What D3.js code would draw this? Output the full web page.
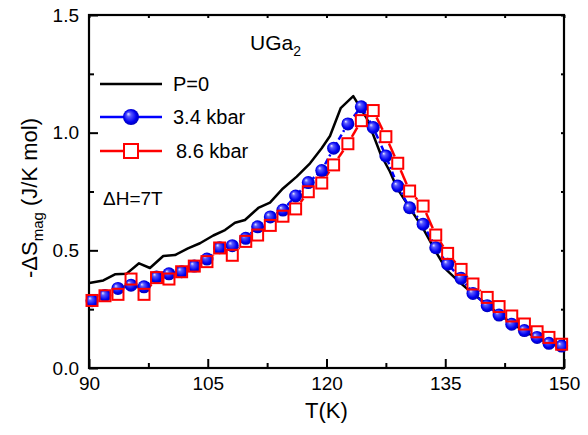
<!DOCTYPE html>
<html>
  <head>
    <meta charset="utf-8">
    <script src="https://d3js.org/d3.v7.min.js"></script>
    <title>UGa2 entropy change</title>
    <style>
      body { margin: 0px; background: #fff; overflow: hidden; }
      svg { display: block; }
      text { font-family: "Liberation Sans", Arial, sans-serif; fill: #000; }
      .domain { display: none; }
      .tick line { stroke: #000; stroke-width: 2; }
      .tick text { font-size: 19px; }
    </style>
  </head>
  <body>
    <svg width="588" height="435"></svg>
    <script>
      // P = 0 curve (line only)
      const tempP0 = [90.04, 91.81, 93.28, 94.76, 96.32, 97.70, 99.38, 100.86, 102.50, 104.02,
        105.70, 107.18, 108.44, 109.70, 111.38, 112.86, 114.50, 116.24, 117.92, 119.39,
        120.44, 121.79, 123.38, 125.08, 125.91, 126.88, 128.02, 128.97, 130.55, 132.23,
        133.83, 135.18, 136.86, 138.54, 140.23, 141.79, 143.42, 145.06, 146.70, 148.34, 149.91];
      const dsP0 = [0.361, 0.372, 0.398, 0.401, 0.445, 0.425, 0.476, 0.480, 0.508, 0.530,
        0.563, 0.586, 0.617, 0.629, 0.680, 0.703, 0.763, 0.813, 0.870, 0.934,
        0.986, 1.104, 1.155, 1.061, 0.990, 0.905, 0.834, 0.761, 0.679, 0.591,
        0.493, 0.416, 0.363, 0.314, 0.271, 0.229, 0.190, 0.154, 0.126, 0.103, 0.087];

      // 3.4 kbar and 8.6 kbar share the temperature grid
      const tempP = [90.38, 92.02, 93.66, 95.31, 96.95, 98.53, 100.1, 101.7, 103.3, 104.9,
        106.5, 108.1, 109.8, 111.3, 112.9, 114.5, 116.1, 117.7, 119.4, 120.9,
        122.7, 124.4, 125.9, 127.5, 129.0, 130.5, 132.2, 133.8, 135.3, 137.0,
        138.5, 140.3, 141.8, 143.4, 145.0, 146.6, 148.1, 149.7];
      const ds34 = [0.286, 0.308, 0.338, 0.352, 0.345, 0.387, 0.400, 0.409, 0.433, 0.463,
        0.511, 0.520, 0.551, 0.600, 0.642, 0.671, 0.731, 0.788, 0.839, 0.934,
        1.037, 1.110, 1.022, 0.901, 0.773, 0.681, 0.611, 0.511, 0.441, 0.381,
        0.317, 0.265, 0.225, 0.186, 0.159, 0.130, 0.105, 0.093];
      const ds86 = [0.287, 0.307, 0.313, 0.378, 0.313, 0.384, 0.378, 0.409, 0.433, 0.452,
        0.510, 0.479, 0.538, 0.565, 0.606, 0.645, 0.676, 0.749, 0.786, 0.863,
        0.953, 1.051, 1.094, 0.983, 0.870, 0.752, 0.688, 0.565, 0.487, 0.419,
        0.357, 0.300, 0.261, 0.221, 0.187, 0.154, 0.130, 0.101];

      const xTicks = [90, 105, 120, 135, 150];
      const xMinor = [97.5, 112.5, 127.5, 142.5];
      const yTicks = [0, 0.5, 1.0, 1.5];
      const yMinor = [0.25, 0.75, 1.25];
      const legendLabels = ['P=0', '3.4 kbar', '8.6 kbar'];

      const margin = { left: 89, right: 24, top: 15, bottom: 67 };
      const svg = d3.select('svg');
      const width = +svg.attr('width');
      const height = +svg.attr('height');
      const innerWidth = width - margin.left - margin.right;
      const innerHeight = height - margin.top - margin.bottom;

      const defs = svg.append('defs');
      const grad = defs.append('radialGradient')
          .attr('id', 'ball')
          .attr('cx', '50%').attr('cy', '50%').attr('r', '55%')
          .attr('fx', '32%').attr('fy', '30%');
      grad.append('stop').attr('offset', '0%').attr('stop-color', '#e8e8ff');
      grad.append('stop').attr('offset', '25%').attr('stop-color', '#5a5aff');
      grad.append('stop').attr('offset', '70%').attr('stop-color', '#0000f0');
      grad.append('stop').attr('offset', '100%').attr('stop-color', '#0000a8');

      const g = svg.append('g')
          .attr('transform', `translate(${margin.left},${margin.top})`);

      const xScale = d3.scaleLinear().domain([90, 150]).range([0, innerWidth]);
      const yScale = d3.scaleLinear().domain([0, 1.5]).range([innerHeight, 0]);

      // axes: major ticks inside with labels, minor ticks, tiny ticks on top/right
      g.append('g')
          .attr('transform', `translate(0,${innerHeight})`)
          .call(d3.axisBottom(xScale).tickValues(xTicks).tickSize(-9).tickPadding(9)
            .tickFormat(d3.format('d')));
      g.append('g')
          .call(d3.axisLeft(yScale).tickValues(yTicks).tickSize(-9).tickPadding(10)
            .tickFormat(d3.format('.1f')));

      const noLabels = sel => sel.selectAll('text').remove();
      g.append('g')
          .attr('transform', `translate(0,${innerHeight})`)
          .call(d3.axisBottom(xScale).tickValues(xMinor).tickSize(-5))
          .call(noLabels);
      g.append('g')
          .call(d3.axisLeft(yScale).tickValues(yMinor).tickSize(-5))
          .call(noLabels);
      g.append('g')
          .attr('transform', `translate(${innerWidth},0)`)
          .call(d3.axisRight(yScale).tickValues(yTicks.concat(yMinor)).tickSize(-3))
          .call(noLabels);
      g.append('g')
          .call(d3.axisTop(xScale).tickValues(xTicks.concat(xMinor)).tickSize(-3))
          .call(noLabels);

      g.append('rect')
          .attr('width', innerWidth)
          .attr('height', innerHeight)
          .attr('fill', 'none')
          .attr('stroke', '#000')
          .attr('stroke-width', 2.2);

      const line = d3.line()
        .x(d => xScale(d[0]))
        .y(d => yScale(d[1]));

      const p0 = tempP0.map((t, i) => [t, dsP0[i]]);
      const p34 = tempP.map((t, i) => [t, ds34[i]]);
      const p86 = tempP.map((t, i) => [t, ds86[i]]);

      // 8.6 kbar: segments between squares, with a gap at each symbol
      const half = 5.5;
      const segs = d3.pairs(p86).map(([a, b]) => {
        const x1 = xScale(a[0]), y1 = yScale(a[1]);
        const x2 = xScale(b[0]), y2 = yScale(b[1]);
        const len = Math.hypot(x2 - x1, y2 - y1);
        const ux = (x2 - x1) / len, uy = (y2 - y1) / len;
        const c = half / Math.max(Math.abs(ux), Math.abs(uy)) + 1.5;
        return [x1 + ux * c, y1 + uy * c, x2 - ux * c, y2 - uy * c, len > 2 * c];
      }).filter(s => s[4]);
      g.append('g').selectAll('line')
        .data(segs)
        .join('line')
          .attr('x1', d => d[0]).attr('y1', d => d[1])
          .attr('x2', d => d[2]).attr('y2', d => d[3])
          .attr('stroke', '#ff0000')
          .attr('stroke-width', 2.5);

      g.append('path')
          .datum(p0)
          .attr('fill', 'none')
          .attr('stroke', '#000')
          .attr('stroke-width', 2.5)
          .attr('stroke-linejoin', 'round')
          .attr('d', line);

      g.append('path')
          .datum(p34)
          .attr('fill', 'none')
          .attr('stroke', '#0000ff')
          .attr('stroke-width', 2.5)
          .attr('stroke-dasharray', '6 3 2 3')
          .attr('d', line);

      g.append('g').selectAll('circle')
        .data(p34)
        .join('circle')
          .attr('cx', d => xScale(d[0]))
          .attr('cy', d => yScale(d[1]))
          .attr('r', 6.5)
          .attr('fill', 'url(#ball)');

      g.append('g').selectAll('rect')
        .data(p86)
        .join('rect')
          .attr('x', d => xScale(d[0]) - half)
          .attr('y', d => yScale(d[1]) - half)
          .attr('width', half * 2)
          .attr('height', half * 2)
          .attr('fill', 'none')
          .attr('stroke', '#ff0000')
          .attr('stroke-width', 2);

      // legend
      const lx0 = 100 - margin.left, lx1 = 162 - margin.left, lmid = 131 - margin.left;
      const ly = [84, 117, 151].map(v => v - margin.top);
      g.append('line')
          .attr('x1', lx0).attr('x2', lx1).attr('y1', ly[0]).attr('y2', ly[0])
          .attr('stroke', '#000').attr('stroke-width', 2.5);
      g.append('line')
          .attr('x1', lx0).attr('x2', lx1).attr('y1', ly[1]).attr('y2', ly[1])
          .attr('stroke', '#0000ff').attr('stroke-width', 2.5);
      g.append('circle')
          .attr('cx', lmid).attr('cy', ly[1]).attr('r', 8)
          .attr('fill', 'url(#ball)');
      g.append('line')
          .attr('x1', lx0).attr('x2', lmid - 8).attr('y1', ly[2]).attr('y2', ly[2])
          .attr('stroke', '#ff0000').attr('stroke-width', 2.5);
      g.append('line')
          .attr('x1', lmid + 8).attr('x2', lx1).attr('y1', ly[2]).attr('y2', ly[2])
          .attr('stroke', '#ff0000').attr('stroke-width', 2.5);
      g.append('rect')
          .attr('x', lmid - 7).attr('y', ly[2] - 7).attr('width', 14).attr('height', 14)
          .attr('fill', 'none').attr('stroke', '#ff0000').attr('stroke-width', 2);
      g.selectAll('.leg')
        .data(legendLabels)
        .join('text')
          .attr('class', 'leg')
          .attr('x', (d, i) => (i === 2 ? 176 : 173) - margin.left)
          .attr('y', (d, i) => ly[i] + 7)
          .style('font-size', '20px')
          .text(d => d);

      // annotations
      const title = g.append('text')
          .attr('x', 250 - margin.left)
          .attr('y', 50 - margin.top)
          .style('font-size', '21px');
      title.append('tspan').text('UGa');
      title.append('tspan').attr('dy', 6).style('font-size', '14px').text('2');

      g.append('text')
          .attr('x', 103 - margin.left)
          .attr('y', 205 - margin.top)
          .style('font-size', '19px')
          .text('\u0394H=7T');

      // axis titles
      g.append('text')
          .attr('x', innerWidth / 2)
          .attr('y', 418 - margin.top)
          .style('text-anchor', 'middle')
          .style('font-size', '22px')
          .text('T(K)');

      const yl = g.append('text')
          .attr('transform', `translate(${37 - margin.left},${198 - margin.top}) rotate(-90)`)
          .style('text-anchor', 'middle')
          .style('font-size', '22px');
      yl.append('tspan').text('-\u0394S');
      yl.append('tspan').attr('dy', 6).style('font-size', '15px').text('mag');
      yl.append('tspan').attr('dy', -6).text(' (J/K mol)');
    </script>
  </body>
</html>
